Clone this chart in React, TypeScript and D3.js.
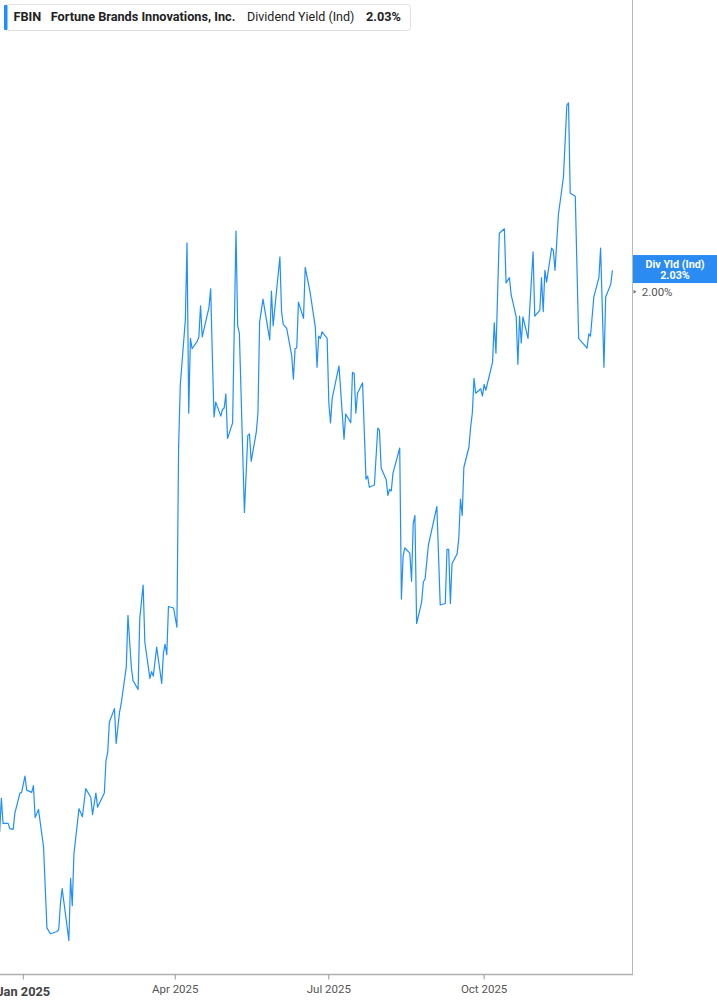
import React, { useMemo } from "react";
import * as d3 from "d3";

const WIDTH = 717;
const HEIGHT = 1005;
const PLOT = { left: 0, right: 632, top: 0, bottom: 974.5 };
const FONT = "Roboto, 'Liberation Sans', Arial, sans-serif";
const LINE_COLOR = "#1e8fff";

const TICKER = "FBIN";
const COMPANY = "Fortune Brands Innovations, Inc.";
const METRIC = "Dividend Yield (Ind)";
const BADGE_TITLE = "Div Yld (Ind)";
const CURRENT_VALUE = 2.03;

// x axis ticks (quarter starts)
const xTickDates = ["2025-01-01", "2025-04-01", "2025-07-01", "2025-10-01"];
const xTickLabels = ["Jan 2025", "Apr 2025", "Jul 2025", "Oct 2025"];

// y axis tick
const yTicks = [2.0];

// daily dividend yield (%)
const dates = [
  "2024-12-18", "2024-12-19", "2024-12-20", "2024-12-23", "2024-12-24", "2024-12-26", "2024-12-27", "2024-12-30", "2024-12-31",
  "2025-01-02", "2025-01-03", "2025-01-06", "2025-01-07", "2025-01-08", "2025-01-10", "2025-01-13", "2025-01-15", "2025-01-17",
  "2025-01-21", "2025-01-22", "2025-01-23", "2025-01-24", "2025-01-28", "2025-01-29", "2025-01-30", "2025-01-31",
  "2025-02-03", "2025-02-05", "2025-02-07", "2025-02-10", "2025-02-11", "2025-02-13", "2025-02-14", "2025-02-18", "2025-02-19",
  "2025-02-20", "2025-02-21", "2025-02-24", "2025-02-25", "2025-02-27", "2025-02-28",
  "2025-03-03", "2025-03-04", "2025-03-06", "2025-03-07", "2025-03-10", "2025-03-11", "2025-03-13", "2025-03-14", "2025-03-17",
  "2025-03-18", "2025-03-19", "2025-03-21", "2025-03-24", "2025-03-25", "2025-03-26", "2025-03-27", "2025-03-28", "2025-03-31",
  "2025-04-02", "2025-04-03", "2025-04-04", "2025-04-07", "2025-04-08", "2025-04-09", "2025-04-10", "2025-04-11", "2025-04-14",
  "2025-04-15", "2025-04-16", "2025-04-17", "2025-04-21", "2025-04-22", "2025-04-23", "2025-04-24", "2025-04-25", "2025-04-28",
  "2025-04-29", "2025-04-30",
  "2025-05-01", "2025-05-02", "2025-05-05", "2025-05-07", "2025-05-08", "2025-05-09", "2025-05-12", "2025-05-14", "2025-05-15",
  "2025-05-16", "2025-05-19", "2025-05-20", "2025-05-21", "2025-05-23", "2025-05-27", "2025-05-28", "2025-05-29",
  "2025-06-02", "2025-06-03", "2025-06-04", "2025-06-06", "2025-06-09", "2025-06-10", "2025-06-11", "2025-06-12", "2025-06-13",
  "2025-06-16", "2025-06-17", "2025-06-20", "2025-06-23", "2025-06-24", "2025-06-25", "2025-06-26", "2025-06-27", "2025-06-30",
  "2025-07-01", "2025-07-02", "2025-07-03", "2025-07-07", "2025-07-10", "2025-07-11", "2025-07-14", "2025-07-15", "2025-07-16",
  "2025-07-17", "2025-07-18", "2025-07-21", "2025-07-23", "2025-07-24", "2025-07-25", "2025-07-28", "2025-07-30", "2025-07-31",
  "2025-08-01", "2025-08-04", "2025-08-05", "2025-08-06", "2025-08-07", "2025-08-08", "2025-08-12", "2025-08-13", "2025-08-14",
  "2025-08-15", "2025-08-18", "2025-08-19", "2025-08-20", "2025-08-21", "2025-08-22", "2025-08-25", "2025-08-26", "2025-08-27",
  "2025-08-29",
  "2025-09-03", "2025-09-05", "2025-09-08", "2025-09-09", "2025-09-10", "2025-09-11", "2025-09-12", "2025-09-15", "2025-09-16",
  "2025-09-17", "2025-09-18", "2025-09-19", "2025-09-22", "2025-09-23", "2025-09-24", "2025-09-25", "2025-09-26", "2025-09-29",
  "2025-09-30",
  "2025-10-01", "2025-10-02", "2025-10-06", "2025-10-07", "2025-10-08", "2025-10-10", "2025-10-13", "2025-10-14", "2025-10-16",
  "2025-10-17", "2025-10-20", "2025-10-21", "2025-10-22", "2025-10-23", "2025-10-24", "2025-10-27", "2025-10-30", "2025-10-31",
  "2025-11-03", "2025-11-04", "2025-11-05", "2025-11-06", "2025-11-07", "2025-11-10", "2025-11-11", "2025-11-12", "2025-11-14",
  "2025-11-17", "2025-11-19", "2025-11-20", "2025-11-21", "2025-11-24", "2025-11-26",
  "2025-12-01", "2025-12-02", "2025-12-03", "2025-12-05", "2025-12-08", "2025-12-09", "2025-12-11", "2025-12-12", "2025-12-15",
  "2025-12-16",
];

const yields = [
  1.270, 1.316, 1.282, 1.282, 1.275, 1.274, 1.296, 1.323, 1.324,
  1.346, 1.327, 1.324, 1.333, 1.290, 1.301, 1.250, 1.141, 1.133,
  1.136, 1.139, 1.174, 1.194, 1.124, 1.208, 1.171, 1.241,
  1.302, 1.291, 1.329, 1.317, 1.294, 1.323, 1.304, 1.323, 1.367,
  1.378, 1.419, 1.437, 1.390, 1.432, 1.444,
  1.493, 1.563, 1.493, 1.475, 1.463, 1.559, 1.604, 1.527, 1.478,
  1.487, 1.481, 1.520, 1.471, 1.512, 1.524, 1.510, 1.575, 1.573,
  1.547, 1.790, 1.874, 1.962, 2.066, 1.836, 1.937, 1.923, 1.933,
  1.939, 1.981, 1.939, 1.979, 2.004, 1.912, 1.831, 1.851, 1.832,
  1.841, 1.843,
  1.862, 1.802, 1.823, 2.082, 1.954, 1.944, 1.702, 1.806, 1.808,
  1.771, 1.810, 1.836, 1.959, 1.990, 1.935, 2.001, 1.954,
  2.047, 1.973, 1.956, 1.951, 1.914, 1.882, 1.923, 1.924, 1.986,
  1.964, 2.033, 1.998, 1.952, 1.898, 1.940, 1.937, 1.946, 1.937,
  1.850, 1.823, 1.856, 1.900, 1.801, 1.835, 1.823, 1.891, 1.890,
  1.836, 1.863, 1.877, 1.747, 1.751, 1.736, 1.739, 1.816, 1.813,
  1.762, 1.746, 1.725, 1.733, 1.731, 1.755, 1.789, 1.585, 1.643,
  1.654, 1.647, 1.609, 1.687, 1.698, 1.552, 1.581, 1.608, 1.612,
  1.658,
  1.710, 1.577, 1.579, 1.652, 1.652, 1.579, 1.633, 1.646, 1.667,
  1.720, 1.698, 1.763, 1.790, 1.817, 1.836, 1.883, 1.863, 1.869,
  1.859,
  1.875, 1.867, 1.905, 1.958, 1.917, 2.079, 2.085, 2.012, 2.019,
  1.996, 1.966, 1.902, 1.967, 1.931, 1.966, 1.937, 2.054, 1.967,
  1.975, 2.019, 1.973, 2.029, 2.013, 2.059, 2.056, 2.029, 2.104,
  2.155, 2.252, 2.255, 2.133, 2.129, 1.937,
  1.924, 1.943, 1.940, 1.993, 2.019, 2.059, 1.898, 1.993, 2.010,
  2.029,
];

const parseDate = d3.timeParse("%Y-%m-%d");

export default function App() {
  const data = useMemo(
    () => dates.map((d, i) => ({ date: parseDate(d) as Date, value: yields[i] })),
    []
  );

  // time scale anchored on the quarter ticks, extrapolates to the plot edges
  const xScale = useMemo(
    () =>
      d3
        .scaleTime()
        .domain([parseDate("2025-01-01") as Date, parseDate("2025-10-01") as Date])
        .range([23.3, 23.3 + 273 * 1.688]),
    []
  );

  const yScale = useMemo(
    () => d3.scaleLinear().domain([1.078, 2.394]).range([PLOT.bottom, PLOT.top]),
    []
  );

  const linePath = d3
    .line<{ date: Date; value: number }>()
    .x((d) => xScale(d.date))
    .y((d) => yScale(d.value))(data);

  const yCur = yScale(CURRENT_VALUE);

  return (
    <svg
      width={WIDTH}
      height={HEIGHT}
      style={{ position: "absolute", left: 0, top: 0, display: "block", background: "#fff" }}
      fontFamily={FONT}
    >
      <defs>
        <clipPath id="plotClip">
          <rect x={PLOT.left} y={PLOT.top} width={PLOT.right - PLOT.left} height={PLOT.bottom - PLOT.top} />
        </clipPath>
      </defs>

      {/* line */}
      <path
        d={linePath ?? ""}
        fill="none"
        stroke={LINE_COLOR}
        strokeWidth={1.2}
        strokeLinejoin="round"
        clipPath="url(#plotClip)"
      />

      {/* right border + bottom axis */}
      <line x1={PLOT.right + 0.5} x2={PLOT.right + 0.5} y1={0} y2={PLOT.bottom} stroke="#b8b8b8" strokeWidth={1} />
      <line x1={0} x2={PLOT.right + 1} y1={PLOT.bottom} y2={PLOT.bottom} stroke="#b0b0b0" strokeWidth={1.4} />

      {xTickDates.map((d, i) => {
        const x = xScale(parseDate(d) as Date);
        const first = i === 0;
        return (
          <g key={d}>
            <line x1={x} x2={x} y1={PLOT.bottom} y2={PLOT.bottom + 5} stroke="#999" strokeWidth={1} />
            <text
              x={x}
              y={first ? 995.8 : 993.4}
              textAnchor="middle"
              fontSize={first ? 12.8 : 11.5}
              fontWeight={first ? 700 : 400}
              fill={first ? "#444" : "#555"}
            >
              {xTickLabels[i]}
            </text>
          </g>
        );
      })}

      {/* y tick on the right */}
      {yTicks.map((t) => {
        const y = yScale(t);
        return (
          <g key={t}>
            <path d={`M${PLOT.right + 1.5},${y - 2} L${PLOT.right + 4.5},${y} L${PLOT.right + 1.5},${y + 2} Z`} fill="#777" />
            <text x={641.7} y={y + 4} fontSize={11.5} fill="#555">
              {`${t.toFixed(2)}%`}
            </text>
          </g>
        );
      })}

      {/* current value badge */}
      <rect x={PLOT.right + 1} y={yCur - 14.5} width={WIDTH - PLOT.right - 1} height={28} fill="#2a8cf2" />
      <text x={675} y={yCur - 2} textAnchor="middle" fontSize={10.8} fontWeight={700} fill="#fff">
        {BADGE_TITLE}
      </text>
      <text x={675} y={yCur + 9} textAnchor="middle" fontSize={10.8} fontWeight={700} fill="#fff">
        {`${CURRENT_VALUE.toFixed(2)}%`}
      </text>

      {/* legend box */}
      <rect x={4.5} y={4.5} width={406} height={26} rx={3} fill="#fff" stroke="#e2e2e2" />
      <rect x={4} y={5} width={3.5} height={25} rx={1} fill={LINE_COLOR} />
      <text x={13.5} y={21} fontSize={12.7} fontWeight={700} fill="#222">
        {TICKER}
      </text>
      <text x={50.7} y={21} fontSize={12.7} fontWeight={700} fill="#222">
        {COMPANY}
      </text>
      <text x={247} y={21} fontSize={12.5} fontWeight={400} fill="#222">
        {METRIC}
      </text>
      <text x={366} y={21} fontSize={12.7} fontWeight={700} fill="#222">
        {`${CURRENT_VALUE.toFixed(2)}%`}
      </text>
    </svg>
  );
}
